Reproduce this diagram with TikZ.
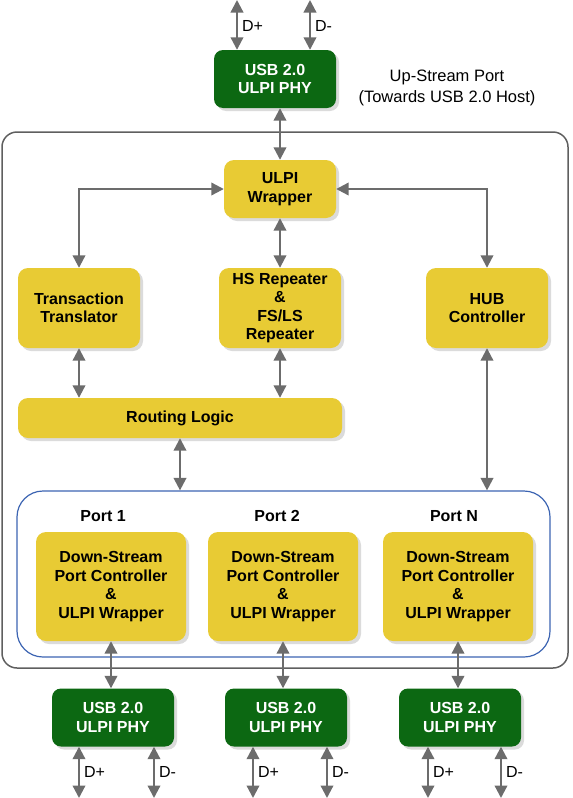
\documentclass[tikz,border=0pt]{standalone}
\usepackage{fontspec}
\setmainfont{Liberation Sans}
\usetikzlibrary{arrows.meta,shadows}
\definecolor{boxyellow}{RGB}{232,203,52}
\definecolor{phygreen}{RGB}{12,104,18}
\definecolor{linkgray}{RGB}{108,108,108}
\definecolor{framegray}{RGB}{95,95,95}
\definecolor{portblue}{RGB}{60,100,178}

\begin{document}
\begin{tikzpicture}[x=1pt,y=-1pt,>={Triangle[length=12.5pt,width=12.5pt]},
			every node/.style={
				align=center,
				inner sep=0pt,
				font=\fontsize{16}{18.5}\selectfont\bfseries
			},
			block/.style={
				fill=boxyellow,
				rounded corners=10pt,
				minimum width=122pt,
				minimum height=80pt,
				drop shadow={shadow xshift=3pt,shadow yshift=-3pt,fill=black!14,opacity=1}
			},
			phy/.style={
				fill=phygreen,
				text=white,
				rounded corners=9pt,
				minimum width=122pt,
				minimum height=58pt,
				drop shadow={shadow xshift=3pt,shadow yshift=-3pt,fill=black!14,opacity=1}
			},
			dlabel/.style={font=\fontsize{16}{18}\selectfont,anchor=west},
			link/.style={<->,draw=linkgray,line width=2.2pt}]
			
			\useasboundingbox (0,0) rectangle (573,798);
			
			% frames
			\node(hub)[draw=framegray,line width=1.5pt,rounded corners=15pt,minimum width=566pt,minimum height=536pt] at (285,400){};
			
			\node(ports)[draw=portblue,line width=1.2pt,rounded corners=26pt,minimum width=533pt,minimum height=166pt] at (283.5,574){};
			
			% up-stream side
			\node(phy0)[phy] at (275,79){USB 2.0\\ULPI PHY};
			
			\node(up)[font=\fontsize{16.5}{21}\selectfont] at (447,88){Up-Stream Port\\(Towards USB 2.0 Host)};
			
			\node(ulpi)[block,minimum width=112pt,minimum height=58pt] at (280,189){ULPI\\Wrapper};
			
			\node(tt)[block] at (79,308){Transaction\\Translator};
			
			\node(hs)[block] at (280,308){HS Repeater\\\&\\FS/LS\\Repeater};
			
			\node(hubc)[block] at (487,308){HUB\\Controller};
			
			\node(route)[block,minimum width=324pt,minimum height=40pt] at (180,418){Routing Logic};
			
			% down-stream ports
			\node(p1)at (103,516){Port 1};
			
			\node(p2)at (277,516){Port 2};
			
			\node(pn)at (454,516){Port N};
			
			\node(ds1)[block,minimum width=150pt,minimum height=109pt] at (111,586.5){Down-Stream\\Port Controller\\\&\\ULPI Wrapper};
			
			\node(ds2)[block,minimum width=150pt,minimum height=109pt] at (283,586.5){Down-Stream\\Port Controller\\\&\\ULPI Wrapper};
			
			\node(dsn)[block,minimum width=150pt,minimum height=109pt] at (458,586.5){Down-Stream\\Port Controller\\\&\\ULPI Wrapper};
			
			\node(phy1)[phy] at (113,717.5){USB 2.0\\ULPI PHY};
			
			\node(phy2)[phy] at (286,717.5){USB 2.0\\ULPI PHY};
			
			\node(phyn)[phy] at (460,717.5){USB 2.0\\ULPI PHY};
			
			% data line ends
			\coordinate(dp0) at (237,0);
			\coordinate(dm0) at (310,0);
			\coordinate(dp1) at (79,798);
			\coordinate(dm1) at (154,798);
			\coordinate(dp2) at (253,798);
			\coordinate(dm2) at (327,798);
			\coordinate(dpn) at (428,798);
			\coordinate(dmn) at (501,798);
			
			\draw[link](dp0)--(dp0 |- phy0.north) node[dlabel,pos=0.52,xshift=4pt]{D+};
			
			\draw[link](dm0)--(dm0 |- phy0.north) node[dlabel,pos=0.52,xshift=4pt]{D-};
			
			\draw[link](dp1)--(dp1 |- phy1.south) node[dlabel,pos=0.5,xshift=4pt]{D+};
			
			\draw[link](dm1)--(dm1 |- phy1.south) node[dlabel,pos=0.5,xshift=4pt]{D-};
			
			\draw[link](dp2)--(dp2 |- phy2.south) node[dlabel,pos=0.5,xshift=4pt]{D+};
			
			\draw[link](dm2)--(dm2 |- phy2.south) node[dlabel,pos=0.5,xshift=4pt]{D-};
			
			\draw[link](dpn)--(dpn |- phyn.south) node[dlabel,pos=0.5,xshift=4pt]{D+};
			
			\draw[link](dmn)--(dmn |- phyn.south) node[dlabel,pos=0.5,xshift=4pt]{D-};
			
			% connections
			\draw[link](ulpi.north)--(ulpi.north |- phy0.south);
			
			\draw[link](tt.north)|-(ulpi.west);
			
			\draw[link](hubc.north)|-(ulpi.east);
			
			\draw[link](ulpi)--(hs);
			
			\draw[link](tt)--(tt.south |- route.north);
			
			\draw[link](hs)--(hs.south |- route.north);
			
			\draw[link](route)--(route.south |- ports.north);
			
			\draw[link](hubc)--(hubc.south |- ports.north);
			
			\draw[link](ds1)--(ds1.south |- phy1.north);
			
			\draw[link](ds2)--(ds2.south |- phy2.north);
			
			\draw[link](dsn)--(dsn.south |- phyn.north);
			
		\end{tikzpicture}
\end{document}
